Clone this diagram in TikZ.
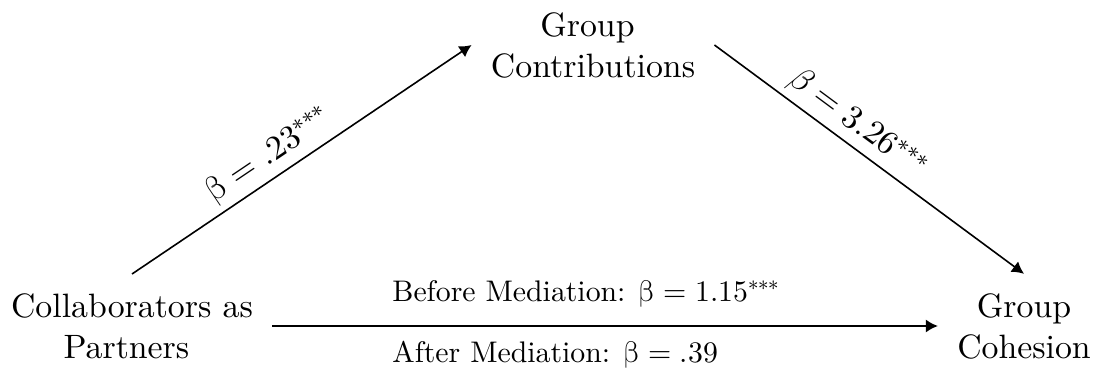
\documentclass[tikz,border=0pt]{standalone}
\usepackage{unicode-math}
\setmainfont{lmroman10-regular.otf}[ItalicFont=lmroman10-italic.otf,BoldFont=lmroman10-bold.otf]
\setmathfont{latinmodern-math.otf}
\usetikzlibrary{arrows.meta}
\begin{document}
\begin{tikzpicture}[x=0.5pt,y=-0.5pt,
  var/.style={align=center,inner sep=9.5pt,font=\fontsize{16.9}{20.5}\selectfont},
  lab/.style={inner sep=0pt,font=\fontsize{14.9}{17}\selectfont},
  slab/.style={sloped,above,inner sep=3pt,font=\fontsize{16.9}{20.5}\selectfont},
  conn/.style={line width=0.8pt,-{Latex[length=6pt,width=6.5pt]}}]
\useasboundingbox (0,0) rectangle (1096,373);
\node[var] (col) at (132,326) {Collaborators as\\ Partners\hspace*{0.33em}};
\node[var] (contrib) at (593,45) {Group\hspace*{0.33em}\\ Contributions};
\node[var] (coh) at (1024,326) {Group\\ Cohesion};
\draw[conn] (col.north) -- node[slab,pos=0.44] (b1) {$\symup{\beta} = .23^{***}$} (contrib.west);
\draw[conn] (contrib.east) -- node[slab,pos=0.42] (b2) {$\beta = 3.26^{***}$} (coh.north);
\draw[conn] (col.east) -- (coh.west);
\node[lab,anchor=base west] (before) at (392,301) {Before Mediation: $\symup{\beta} = 1.15^{***}$};
\node[lab,anchor=base west] (after) at (392,363) {After Mediation: $\symup{\beta} = .39$};
\end{tikzpicture}
\end{document}
